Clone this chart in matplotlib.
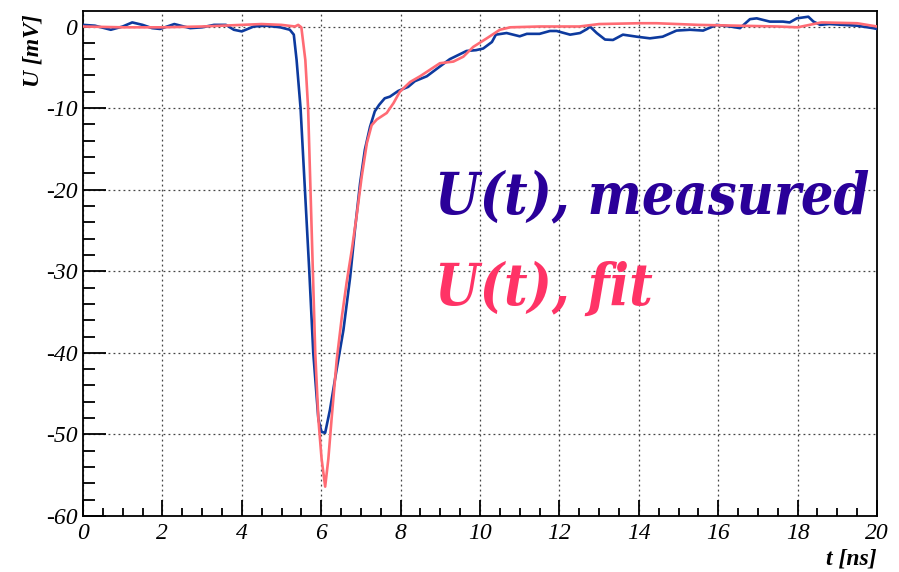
import matplotlib
matplotlib.use("Agg")
import matplotlib.pyplot as plt
from matplotlib.ticker import MultipleLocator

plt.rcParams["axes.unicode_minus"] = False
plt.rcParams["font.family"] = ["Liberation Serif", "DejaVu Serif"]
plt.rcParams["font.style"] = "italic"

# measured signal (t in ns, U in mV)
t_meas = [0.0, 0.3, 0.7, 1.0, 1.24, 1.5, 1.74, 1.94, 2.3, 2.7, 3.0, 3.3, 3.6, 3.8, 4.0, 4.3, 4.6, 4.97,
          5.21, 5.31, 5.38, 5.48, 5.59, 5.7, 5.8, 5.93, 6.01, 6.1, 6.22, 6.39, 6.56, 6.73, 6.85, 6.98,
          7.1, 7.23, 7.35, 7.46, 7.6, 7.73, 7.94, 8.19, 8.36, 8.66, 8.99, 9.24, 9.45, 9.66, 9.9, 10.08,
          10.3, 10.4, 10.67, 11.0, 11.18, 11.5, 11.76, 11.93, 12.27, 12.52, 12.7, 12.77, 12.94, 13.15,
          13.35, 13.6, 13.95, 14.28, 14.6, 14.95, 15.29, 15.62, 15.96, 16.3, 16.55, 16.8, 16.97, 17.3,
          17.63, 17.8, 17.98, 18.27, 18.4, 18.57, 18.8, 19.15, 19.49, 19.9, 20.0]
u_meas = [0.2, 0.1, -0.4, 0.0, 0.5, 0.2, -0.2, -0.3, 0.3, -0.2, -0.1, 0.2, 0.2, -0.4, -0.6, 0.0, 0.1, -0.1,
          -0.4, -1.0, -4.1, -10.0, -20.0, -30.0, -40.0, -48.2, -49.7, -49.8, -47.0, -42.0, -37.2, -30.7,
          -24.9, -19.2, -15.1, -12.3, -10.4, -9.6, -8.8, -8.6, -7.9, -7.4, -6.7, -6.1, -4.9, -4.0, -3.5,
          -3.0, -2.9, -2.7, -1.9, -1.0, -0.8, -1.2, -0.9, -0.9, -0.55, -0.55, -1.0, -0.8, -0.3, 0.0, -0.8,
          -1.6, -1.65, -1.0, -1.25, -1.45, -1.25, -0.5, -0.4, -0.5, 0.2, 0.0, -0.2, 0.9, 1.0, 0.6, 0.6,
          0.5, 1.0, 1.2, 0.6, 0.2, 0.3, 0.2, 0.1, -0.2, -0.3]

# fitted signal
t_fit = [0.0, 1.0, 2.0, 3.0, 4.0, 4.5, 5.0, 5.34, 5.42, 5.5, 5.6, 5.67, 5.73, 5.79, 5.85, 5.93, 6.01,
         6.1, 6.18, 6.26, 6.39, 6.52, 6.64, 6.77, 6.89, 7.02, 7.15, 7.27, 7.4, 7.65, 7.82, 7.98, 8.24,
         8.49, 8.74, 8.99, 9.33, 9.58, 9.83, 10.17, 10.5, 10.76, 11.5, 12.5, 13.0, 14.0, 14.45, 15.5,
         16.5, 17.5, 18.0, 18.6, 19.5, 20.0]
u_fit = [0.0, -0.1, -0.1, 0.0, 0.2, 0.3, 0.2, 0.0, 0.2, -0.1, -4.1, -10.0, -20.0, -30.0, -40.0, -48.2,
         -53.0, -56.4, -53.0, -48.2, -40.9, -35.6, -31.4, -27.4, -23.3, -18.4, -14.3, -12.1, -11.4,
         -10.6, -9.4, -8.0, -6.8, -6.1, -5.3, -4.5, -4.3, -3.7, -2.5, -1.45, -0.4, -0.1, 0.0, 0.0, 0.3,
         0.4, 0.4, 0.2, 0.1, 0.0, -0.1, 0.5, 0.4, 0.0]

x_label = "t [ns]"
y_label = "U [mV]"
legend_meas = "U(t), measured"
legend_fit = "U(t), fit"

fig = plt.figure(figsize=(8.99, 5.72), dpi=100)
ax = fig.add_axes([83/899, 1 - 516/572, (877-83)/899, (516-11)/572])

ax.plot(t_meas, u_meas, color="#0d3a9e", lw=1.9, zorder=3)
ax.plot(t_fit, u_fit, color="#ff6b74", lw=1.9, zorder=4)

ax.set_xlim(0, 20)
ax.set_ylim(-60, 1.9)
ax.xaxis.set_major_locator(MultipleLocator(2))
ax.xaxis.set_minor_locator(MultipleLocator(0.5))
ax.yaxis.set_major_locator(MultipleLocator(10))
ax.yaxis.set_minor_locator(MultipleLocator(2))

ax.grid(True, which="major", ls=(0, (1.5, 2.5)), color="#444444", lw=0.9)
ax.tick_params(axis="y", which="major", direction="in", length=16.5, width=1.3, pad=4, labelsize=17)
ax.tick_params(axis="y", which="minor", direction="in", length=8.5, width=1.3)
ax.tick_params(axis="x", which="major", direction="in", length=11.5, width=1.3, pad=5, labelsize=17)
ax.tick_params(axis="x", which="minor", direction="in", length=5.8, width=1.3)
for sp in ax.spines.values():
    sp.set_linewidth(1.3)

fig.text(877/899, 1 - 565/572, x_label, ha="right", va="baseline", fontsize=17,
         style="italic", weight="bold")
fig.text(33/899, 1 - 14/572, y_label, ha="center", va="top", rotation=90, fontsize=17,
         style="italic", weight="bold")

fig.text(435/899, 1 - 213/572, legend_meas, ha="left", va="baseline", fontsize=41,
         family="DejaVu Serif", style="italic", weight="bold", stretch="condensed", color="#2a0099")
fig.text(435/899, 1 - 305/572, legend_fit, ha="left", va="baseline", fontsize=41,
         family="DejaVu Serif", style="italic", weight="bold", stretch="condensed", color="#ff3366")

fig.savefig("out.png", dpi=100)
